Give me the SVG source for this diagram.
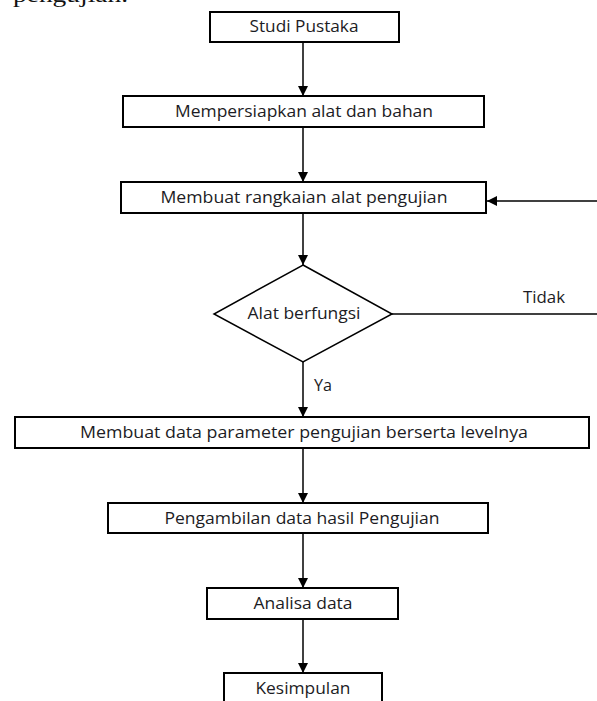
<svg xmlns="http://www.w3.org/2000/svg" width="597" height="701" viewBox="0 0 597 701">
<style>
.box{fill:#fff;stroke:#000;stroke-width:2}
.dia{fill:#fff;stroke:#000;stroke-width:1.5}
.lbl{font-family:"Open Sans","Liberation Sans",sans-serif;font-size:16px;fill:#1c1c24;text-anchor:middle}
.lft{font-family:"Open Sans","Liberation Sans",sans-serif;font-size:16px;fill:#1c1c24}
.ln{fill:none;stroke:#000;stroke-width:1.5}
.ar{fill:none;stroke:#000;stroke-width:1.5;marker-end:url(#ah)}
</style>
<defs>
<marker id="ah" markerWidth="10" markerHeight="10" refX="10" refY="5" orient="auto" markerUnits="userSpaceOnUse">
<path d="M0,0 L10,5 L0,10 Z" fill="#000"/>
</marker>
</defs>
<rect width="597" height="701" fill="#fff"/>
<text x="13" y="2" font-family="'Liberation Serif',serif" font-size="20" textLength="115" lengthAdjust="spacingAndGlyphs" fill="#111">pengujian.</text>
<g id="connectors">
<line class="ar" x1="303" y1="42" x2="303" y2="96"/>
<line class="ar" x1="303" y1="127" x2="303" y2="182"/>
<line class="ar" x1="597" y1="201" x2="487" y2="201"/>
<line class="ar" x1="303" y1="213" x2="303" y2="265"/>
<line class="ln" x1="392" y1="314" x2="597" y2="314"/>
<line class="ar" x1="303" y1="362" x2="303" y2="417"/>
<line class="ar" x1="303" y1="448" x2="303" y2="503"/>
<line class="ar" x1="303" y1="533" x2="303" y2="588"/>
<line class="ar" x1="303" y1="619" x2="303" y2="673"/>
<text class="lft" x="523" y="303" textLength="42" lengthAdjust="spacingAndGlyphs">Tidak</text>
<text class="lft" x="314" y="391" textLength="18" lengthAdjust="spacingAndGlyphs">Ya</text>
</g>
<g id="studi"><rect class="box" x="210" y="12" width="189" height="30"/><text class="lbl" x="304" y="32" textLength="109" lengthAdjust="spacingAndGlyphs">Studi Pustaka</text></g>
<g id="persiapan"><rect class="box" x="123" y="96" width="361" height="31"/><text class="lbl" x="304" y="117" textLength="258" lengthAdjust="spacingAndGlyphs">Mempersiapkan alat dan bahan</text></g>
<g id="rangkaian"><rect class="box" x="121" y="182" width="365" height="31"/><text class="lbl" x="304" y="203" textLength="287" lengthAdjust="spacingAndGlyphs">Membuat rangkaian alat pengujian</text></g>
<g id="berfungsi"><polygon class="dia" points="303,265 392,314 303,362 214,314"/><text class="lbl" x="304" y="319" textLength="113" lengthAdjust="spacingAndGlyphs">Alat berfungsi</text></g>
<g id="parameter"><rect class="box" x="15" y="417" width="574" height="31"/><text class="lbl" x="304" y="438" textLength="448" lengthAdjust="spacingAndGlyphs">Membuat data parameter pengujian berserta levelnya</text></g>
<g id="pengambilan"><rect class="box" x="108" y="503" width="380" height="30"/><text class="lbl" x="302" y="524" textLength="275" lengthAdjust="spacingAndGlyphs">Pengambilan data hasil Pengujian</text></g>
<g id="analisa"><rect class="box" x="207" y="588" width="191" height="31"/><text class="lbl" x="303" y="609" textLength="99" lengthAdjust="spacingAndGlyphs">Analisa data</text></g>
<g id="kesimpulan"><rect class="box" x="224" y="673" width="158" height="40"/><text class="lbl" x="303" y="694" textLength="95" lengthAdjust="spacingAndGlyphs">Kesimpulan</text></g>
</svg>
